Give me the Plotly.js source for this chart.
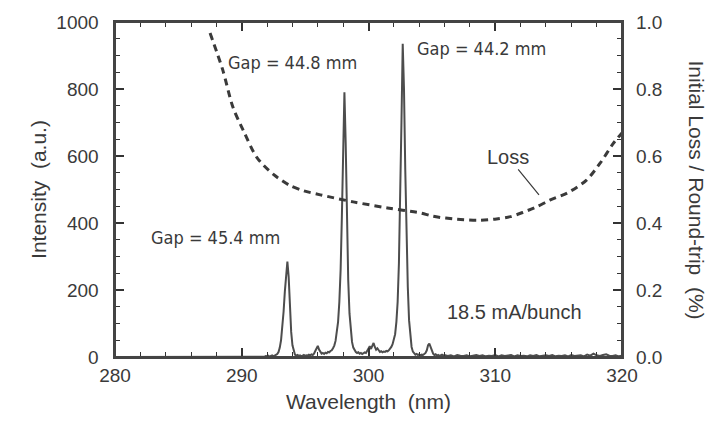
<!DOCTYPE html>
<html>
<head>
<meta charset="utf-8">
<script src="https://cdn.plot.ly/plotly-3.0.1.min.js"></script>
<style>html,body{margin:0;padding:0;background:#fff}#chart{width:706px;height:428px}</style>
</head>
<body>
<div id="chart"></div>
<script>
// Intensity spectrum (wavelength in nm, intensity in a.u.)
const wavelength = [280, 291.5,
 291.6,291.7,291.8,291.9,292.0,292.1,292.2,292.3,292.4,292.5,292.6,292.7,292.8,292.9,
 293.0,293.1,293.2,293.3,293.4,293.5,293.6,293.7,293.8,293.9,
 294.0,294.1,294.2,294.3,294.4,294.5,294.6,294.7,294.8,294.9,
 295.0,295.1,295.2,295.3,295.4,295.5,295.6,295.7,295.8,295.9,
 296.0,296.1,296.2,296.3,296.4,296.5,296.6,296.7,296.8,296.9,
 297.0,297.1,297.2,297.3,297.4,297.5,297.6,297.7,297.8,297.9,
 298.0,298.1,298.2,298.3,298.4,298.5,298.6,298.7,298.8,298.9,
 299.0,299.1,299.2,299.3,299.4,299.5,299.6,299.7,299.8,299.9,
 300.0,300.1,300.2,300.3,300.4,300.5,300.6,300.7,300.8,300.9,
 301.0,301.1,301.2,301.3,301.4,301.5,301.6,301.7,301.8,301.9,
 302.0,302.1,302.2,302.3,302.4,302.5,302.6,302.7,302.8,302.9,
 303.0,303.1,303.2,303.3,303.4,303.5,303.6,303.7,303.8,303.9,
 304.0,304.1,304.2,304.3,304.4,304.5,304.6,304.7,304.8,304.9,
 305.0,305.1,305.2,305.3,305.4,305.5,305.6,305.7,305.8,305.9,
 306.0,306.25,306.5,306.75,307.0,307.25,307.5,307.75,308.0,308.25,308.5,308.75,
 309.0,309.25,309.5,309.75,310.0,310.25,310.5,310.75,311.0,311.25,311.5,311.75,
 312.0,312.25,312.5,312.75,313.0,313.25,313.5,313.75,314.0,314.25,314.5,314.75,
 315.0,315.25,315.5,315.75,316.0,316.25,316.5,316.75,317.0,317.25,317.5,317.75,
 318.0,318.25,318.5,318.75,319.0,319.25,319.5,319.75,320.0];
const intensity = [0, 0,
 0,2,1,3,2,4,1,3,5,2,4,6,9,15,
 28,50,85,135,195,255,285,240,150,75,
 35,15,7,4,6,3,5,2,4,6,
 3,5,4,7,5,8,6,10,18,28,
 33,22,14,10,12,9,13,11,15,14,
 18,20,26,34,48,70,105,165,260,420,
 660,790,640,410,230,130,75,45,28,20,
 15,12,14,10,12,9,11,14,12,18,
 25,32,24,35,42,30,22,26,18,15,
 17,14,16,15,18,17,20,24,30,38,
 50,68,105,165,280,450,700,935,800,560,
 370,210,110,58,30,16,10,7,9,6,
 8,5,7,6,9,12,20,35,40,30,
 18,10,6,8,4,6,3,5,7,4,
 6,3,5,2,6,4,3,5,2,4,6,3,
 5,2,4,3,6,2,5,3,4,6,2,5,
 3,4,2,5,3,6,2,4,5,3,6,2,
 4,3,5,2,6,3,4,5,2,7,4,10,
 5,3,6,8,4,3,5,2,4];

// Initial loss per round-trip (%), read on the right-hand axis
const lossWavelength = [287.5,288.5,289.3,290.1,291.2,292.5,293.8,294.9,296.2,298.8,301.5,304.1,305.1,307.0,308.6,310.1,311.2,312.2,313.3,314.3,315.7,317.2,318.3,319.3,320.0];
const lossValue = [0.967,0.857,0.746,0.678,0.595,0.545,0.512,0.496,0.484,0.463,0.445,0.430,0.420,0.411,0.408,0.412,0.419,0.432,0.449,0.468,0.490,0.528,0.580,0.637,0.669];

// axis ranges and right-axis tick labels
const intensityMax = 1000;
const lossMax = 1.0;
const lossTicks = [0, 0.2, 0.4, 0.6, 0.8, 1.0];
const lossScale = intensityMax / lossMax;   // right axis mapped onto the left axis scale

const tickFont = {family:'Liberation Sans, Arial, sans-serif', size:19, color:'#3a3a3a'};
const narrow = 'Liberation Sans Narrow, Arial Narrow, DejaVu Sans Condensed, sans-serif';
const titleFont = {family:'Liberation Sans, Arial, sans-serif', size:21, color:'#3a3a3a'};
const pad = '\u00a0\u00a0';

const traces = [
 {x: wavelength, y: intensity, type:'scatter', mode:'lines',
  line:{color:'#4d4d4d', width:2}, hoverinfo:'skip', showlegend:false},
 {x: lossWavelength, y: lossValue.map(v => v * lossScale), type:'scatter', mode:'lines',
  line:{color:'#3a3a3a', width:3, dash:'7px,5px', shape:'spline', smoothing:0.8},
  hoverinfo:'skip', showlegend:false}
];

const annotations = [
  {xref:'x', yref:'y', x:287.9, y:358, text:'Gap = 45.4 mm', showarrow:false,
   font:{family:narrow, size:18, color:'#3a3a3a'}},
  {xref:'x', yref:'y', x:294.0, y:880, text:'Gap = 44.8 mm', showarrow:false,
   font:{family:narrow, size:18, color:'#3a3a3a'}},
  {xref:'x', yref:'y', x:308.95, y:922, text:'Gap = 44.2 mm', showarrow:false,
   font:{family:narrow, size:18, color:'#3a3a3a'}},
  {xref:'x', yref:'y', x:311.5, y:134, text:'18.5 mA/bunch', showarrow:false,
   font:{family:'Liberation Sans, Arial, sans-serif', size:20, color:'#3a3a3a'}},
  {xref:'x', yref:'y', x:313.45, y:0.484 * lossScale, text:'Loss', showarrow:true, arrowhead:0,
   arrowwidth:1.2, arrowcolor:'#3a3a3a', ax:-31, ay:-38, standoff:0, startstandoff:0,
   font:{family:'Liberation Sans, Arial, sans-serif', size:20, color:'#3a3a3a'}},
  {xref:'paper', yref:'paper', x:1, xshift:74, y:0.5, xanchor:'center', yanchor:'middle',
   text:'Initial Loss / Round-trip\u00a0\u00a0(%)', textangle:90, showarrow:false,
   font:titleFont}
];
lossTicks.forEach(t => annotations.push({
  xref:'paper', yref:'y', x:1, y:t * lossScale, xanchor:'left', yanchor:'middle', xshift:12,
  text:t.toFixed(1), showarrow:false, font:tickFont
}));

const layout = {
 width:706, height:428,
 margin:{l:115, r:84, t:22, b:71},
 paper_bgcolor:'#fff', plot_bgcolor:'#fff',
 showlegend:false,
 xaxis:{range:[280,320], dtick:10,
  ticks:'inside', ticklen:9, tickwidth:1.6, tickcolor:'#333',
  minor:{ticks:'inside', dtick:2, ticklen:5, tickwidth:1.4, tickcolor:'#333'},
  showline:true, linecolor:'#444', linewidth:2, mirror:'ticks',
  showgrid:false, zeroline:false, tickfont:tickFont,
  title:{text:'Wavelength\u00a0\u00a0(nm)', font:titleFont, standoff:10}},
 yaxis:{range:[0,intensityMax], dtick:200, ticksuffix:pad,
  ticks:'inside', ticklen:9, tickwidth:1.6, tickcolor:'#333',
  minor:{ticks:'inside', dtick:50, ticklen:5, tickwidth:1.4, tickcolor:'#333'},
  showline:true, linecolor:'#444', linewidth:2, mirror:'ticks',
  showgrid:false, zeroline:false, tickfont:tickFont,
  title:{text:'Intensity\u00a0\u00a0(a.u.)', font:titleFont, standoff:4}},
 shapes:[
  {type:'rect', xref:'paper', yref:'paper', x0:0, x1:1, y0:0, y1:1,
   line:{color:'#444', width:2}, fillcolor:'rgba(0,0,0,0)', layer:'above'}
 ],
 annotations: annotations
};

Plotly.newPlot('chart', traces, layout, {displayModeBar:false});
</script>
</body>
</html>
